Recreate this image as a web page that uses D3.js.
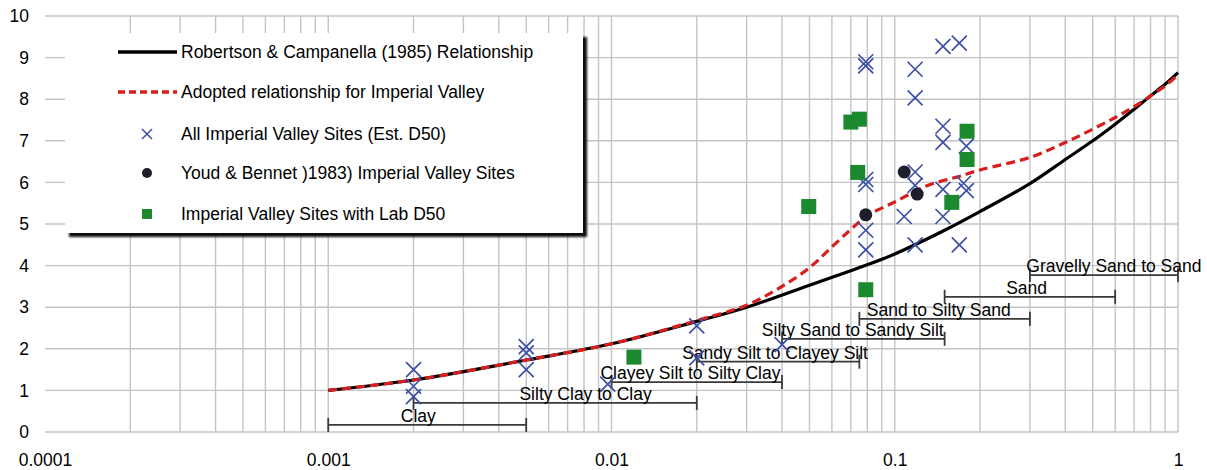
<!DOCTYPE html>
<html><head><meta charset="utf-8">
<script src="https://cdn.jsdelivr.net/npm/d3@7"></script>
<style>
body{margin:0;background:#fff}
svg{display:block}
text{font-family:"Liberation Sans",Arial,sans-serif;fill:#000}
</style>
</head><body>
<svg id="chart" width="1207" height="470"></svg>
<script>
// ---------- data ----------
const xTickValues = [0.0001, 0.001, 0.01, 0.1, 1];
const xTickLabels = ["0.0001", "0.001", "0.01", "0.1", "1"];
const yTickValues = [0,1,2,3,4,5,6,7,8,9,10];

// Robertson & Campanella (1985) relationship
const rcD50   = [0.001,0.002,0.005,0.01,0.02,0.03,0.05,0.08,0.1, 0.15,0.2,0.3, 0.4, 0.5,0.6,0.7, 0.8, 0.9, 1.0];
const rcRatio = [1.0,  1.25, 1.73, 2.12,2.66,3.0, 3.53,4.02,4.28,4.85,5.3,5.97,6.55,7.0,7.4,7.76,8.08,8.36,8.64];

// Adopted relationship for Imperial Valley
const ivD50   = [0.001,0.002,0.005,0.01,0.02,0.03,0.04,0.05,0.06,0.07,0.08,0.1, 0.13,0.17,0.2, 0.3, 0.4, 0.5, 0.6, 0.7, 0.8, 0.9, 1.0];
const ivRatio = [1.0,  1.25, 1.73, 2.12,2.68,3.05,3.5, 3.95,4.45,4.87,5.2, 5.53,5.92,6.15,6.3,6.6,6.96,7.28,7.56,7.82,8.08,8.32,8.58];

// All Imperial Valley Sites (Est. D50)
const estD50   = [0.002,0.002,0.002,0.005,0.005,0.005,0.0097,0.02,0.02,0.04,
                  0.079,0.079,0.079,0.079,0.079,0.079,0.108,
                  0.118,0.118,0.118,0.118,0.118,
                  0.148,0.148,0.148,0.148,0.148,
                  0.169,0.169,0.175,0.179,0.179];
const estRatio = [1.5,1.1,0.85,2.05,1.9,1.5,1.15,2.55,1.78,2.1,
                  8.9,8.8,6.07,5.95,4.85,4.38,5.18,
                  8.72,8.03,6.25,5.93,4.5,
                  9.27,7.35,6.96,5.83,5.18,
                  9.35,4.5,5.98,6.87,5.8];

// Youd & Bennet (1983) Imperial Valley Sites
const ybD50   = [0.079,0.108,0.12];
const ybRatio = [5.22,6.25,5.72];

// Imperial Valley Sites with Lab D50
const labD50   = [0.012,0.0497,0.07,0.075,0.074,0.079,0.159,0.18,0.18];
const labRatio = [1.8, 5.42,  7.45,7.52, 6.24, 3.42, 5.52, 7.23,6.55];

// Soil type D50 ranges
const soilNames = ["Clay","Silty Clay to Clay","Clayey Silt to Silty Clay","Sandy Silt to Clayey Silt",
                   "Silty Sand to Sandy Silt","Sand to Silty Sand","Sand","Gravelly Sand to Sand"];
const soilMin   = [0.001,0.002,0.01,0.02,0.04,0.075,0.15,0.3];
const soilMax   = [0.005,0.02,0.04,0.075,0.15,0.3,0.6,1.0];
const soilLevel = [0.17,0.7,1.2,1.69,2.24,2.72,3.25,3.77];
const soilLabelAt = [0.00208,0.0081,0.019,0.0378,0.0711,0.143,0.292,0.594];

const legendLabels = ["Robertson & Campanella (1985) Relationship",
                      "Adopted relationship for Imperial Valley",
                      "All Imperial Valley Sites (Est. D50)",
                      "Youd & Bennet )1983) Imperial Valley Sites",
                      "Imperial Valley Sites with Lab D50"];

// ---------- drawing ----------
const svg = d3.select("#chart");
const x = d3.scaleLog().domain([0.0001, 1]).range([45, 1178]);
const y = d3.scaleLinear().domain([0, 10]).range([432, 16]);

const BLUE = "#3d4fa6", GREEN = "#1b8a2e", DOT = "#1d1d2b", RED = "#d71e1e";
const FONT = '"Liberation Sans",Arial,sans-serif';

// gridlines
const grid = svg.append("g");
const vLines = x.ticks().filter(v => v > 0.00011);
grid.selectAll("line.v").data(vLines).join("line")
  .attr("x1", d => x(d)).attr("x2", d => x(d))
  .attr("y1", y(0)).attr("y2", y(10))
  .attr("stroke", "#c4c4c4").attr("stroke-width", 1.4);
grid.selectAll("line.h").data(yTickValues).join("line")
  .attr("x1", x(0.0001)).attr("x2", x(1))
  .attr("y1", d => y(d)).attr("y2", d => y(d))
  .attr("stroke", "#c4c4c4").attr("stroke-width", 1.4);

// axes (labels only)
const xAxis = svg.append("g").attr("transform", `translate(0,${y(0)})`)
  .call(d3.axisBottom(x).tickValues(xTickValues).tickFormat((d,i) => xTickLabels[i]).tickSize(0).tickPadding(22));
xAxis.select(".domain").remove();
xAxis.selectAll("text").attr("font-size", 17.5).attr("font-family", FONT).attr("fill", "#000");

const yAxis = svg.append("g").attr("transform", `translate(29,0)`)
  .call(d3.axisLeft(y).tickValues(yTickValues).tickSize(0).tickPadding(0));
yAxis.select(".domain").remove();
yAxis.selectAll("text").attr("font-size", 17.5).attr("font-family", FONT).attr("fill", "#000");

// soil ranges
const soil = soilNames.map((n,i) => ({n, a: soilMin[i], b: soilMax[i], lv: soilLevel[i], lx: soilLabelAt[i]}));
const sg = svg.append("g");
sg.selectAll("line.bar").data(soil).join("line")
  .attr("x1", d => x(d.a)).attr("x2", d => x(d.b))
  .attr("y1", d => y(d.lv)).attr("y2", d => y(d.lv))
  .attr("stroke", "#3a3a3a").attr("stroke-width", 1.8);
sg.selectAll("line.capa").data(soil).join("line")
  .attr("x1", d => x(d.a)).attr("x2", d => x(d.a))
  .attr("y1", d => y(d.lv) - 7).attr("y2", d => y(d.lv) + 7)
  .attr("stroke", "#3a3a3a").attr("stroke-width", 1.8);
sg.selectAll("line.capb").data(soil).join("line")
  .attr("x1", d => x(d.b)).attr("x2", d => x(d.b))
  .attr("y1", d => y(d.lv) - 7).attr("y2", d => y(d.lv) + 7)
  .attr("stroke", "#3a3a3a").attr("stroke-width", 1.8);
sg.selectAll("text").data(soil).join("text")
  .attr("x", d => x(d.lx)).attr("y", d => y(d.lv) - 3)
  .attr("text-anchor", "middle").attr("font-size", 17.5)
  .text(d => d.n);

// curves
const line = d3.line().x(d => x(d[0])).y(d => y(d[1])).curve(d3.curveCatmullRom.alpha(0.5));
svg.append("path").datum(rcD50.map((v,i) => [v, rcRatio[i]]))
  .attr("d", line).attr("fill", "none").attr("stroke", "#000").attr("stroke-width", 3.2);
svg.append("path").datum(ivD50.map((v,i) => [v, ivRatio[i]]))
  .attr("d", line).attr("fill", "none").attr("stroke", RED).attr("stroke-width", 3.2)
  .attr("stroke-dasharray", "9,5");

// markers
const cross = (g, cx, cy, s, w) => {
  g.append("path").attr("d", `M${cx-s},${cy-s}L${cx+s},${cy+s}M${cx-s},${cy+s}L${cx+s},${cy-s}`)
    .attr("stroke", BLUE).attr("stroke-width", w).attr("fill", "none");
};
const mg = svg.append("g");
estD50.forEach((v,i) => cross(mg, x(v), y(estRatio[i]), 7.5, 1.7));
svg.append("g").selectAll("rect").data(labD50.map((v,i) => [v, labRatio[i]])).join("rect")
  .attr("x", d => x(d[0]) - 7.5).attr("y", d => y(d[1]) - 7.5)
  .attr("width", 15).attr("height", 15).attr("fill", GREEN);
svg.append("g").selectAll("circle").data(ybD50.map((v,i) => [v, ybRatio[i]])).join("circle")
  .attr("cx", d => x(d[0])).attr("cy", d => y(d[1])).attr("r", 6.5).attr("fill", DOT);

// legend
const lg = svg.append("g");
const defs = svg.append("defs");
defs.append("filter").attr("id", "blur").append("feGaussianBlur").attr("stdDeviation", 1);
lg.append("rect").attr("x", 69).attr("y", 37).attr("width", 518).attr("height", 200)
  .attr("fill", "#111").attr("filter", "url(#blur)");
lg.append("rect").attr("x", 65).attr("y", 33).attr("width", 518).attr("height", 200).attr("fill", "#fff");
const ly = [52, 92, 134, 173, 214];
lg.append("line").attr("x1", 118).attr("x2", 177).attr("y1", ly[0]).attr("y2", ly[0])
  .attr("stroke", "#000").attr("stroke-width", 3.5);
lg.append("line").attr("x1", 118).attr("x2", 177).attr("y1", ly[1]).attr("y2", ly[1])
  .attr("stroke", RED).attr("stroke-width", 3.5).attr("stroke-dasharray", "7,4");
cross(lg, 147, ly[2], 5, 1.5);
lg.append("circle").attr("cx", 147).attr("cy", ly[3]).attr("r", 5).attr("fill", DOT);
lg.append("rect").attr("x", 142).attr("y", ly[4] - 5).attr("width", 10).attr("height", 10).attr("fill", GREEN);
lg.selectAll("text").data(legendLabels).join("text")
  .attr("x", 181).attr("y", (d,i) => ly[i]).attr("dy", "0.35em")
  .attr("font-size", 17.5).text(d => d);
</script>
</body></html>
